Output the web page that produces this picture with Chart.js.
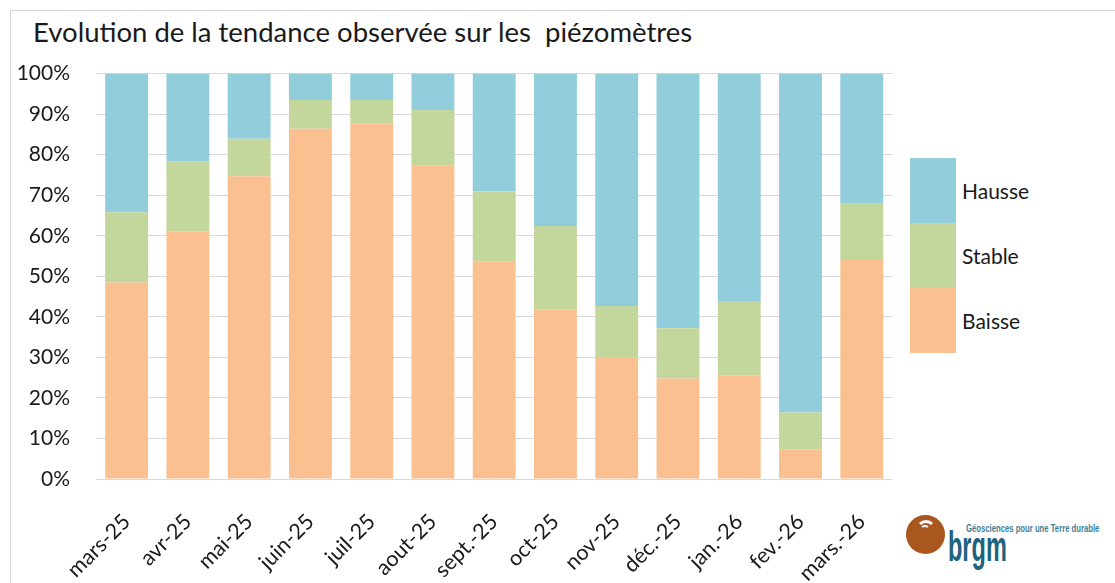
<!DOCTYPE html>
<html>
<head>
<meta charset="utf-8">
<script src="https://cdn.jsdelivr.net/npm/chart.js@4"></script>
<style>
  body { margin: 0; background: #fff; width: 1115px; height: 583px; overflow: hidden; position: relative; font-family: Lato, "Open Sans", sans-serif; }
  #frame { position: absolute; left: 10px; top: 10px; width: 1200px; height: 700px; border: 1px solid #d4d4d4; }
  #title { position: absolute; left: 33px; top: 15px; font-size: 27.5px; color: #1a1a1a; white-space: pre; }
  #chart-box { position: absolute; left: 10px; top: 35px; width: 892px; height: 548px; }
  #legend { position: absolute; left: 910px; top: 158px; }
  .leg-row { display: flex; align-items: center; height: 65px; }
  .leg-box { width: 46px; height: 65px; }
  .leg-text { margin-left: 6px; font-size: 21px; color: #1a1a1a; }
  #logo { position: absolute; left: 905px; top: 512px; width: 210px; height: 70px; }
  #logo .dot { position: absolute; left: 1px; top: 3px; width: 39px; height: 39px; border-radius: 50%; background: #a9561f; }
  #logo .arc { position: absolute; border: 3px solid #fff; border-bottom-color: transparent; border-left-color: transparent; border-right-color: transparent; border-radius: 50%; }
  #logo .brgm { position: absolute; left: 43px; top: 11px; font-family: "Liberation Sans", sans-serif; font-weight: bold; font-size: 42px; color: #21627c; transform: scaleX(0.56); transform-origin: left top; }
  #logo .tag { position: absolute; left: 61px; top: 10px; font-family: "Liberation Sans Narrow", "Liberation Sans", sans-serif; font-weight: bold; font-size: 11px; color: #3d7f98; transform: scaleX(0.7); transform-origin: left top; white-space: nowrap; }
</style>
</head>
<body>
<div id="frame"></div>
<div id="title">Evolution de la tendance observée sur les  piézomètres</div>
<div id="chart-box"><canvas id="chart"></canvas></div>
<div id="legend"></div>
<div id="logo">
  <div class="dot"></div>
  <div class="arc" style="left:11px;top:8px;width:14px;height:14px;"></div>
  <div class="arc" style="left:15px;top:13px;width:6px;height:6px;border-width:2px;"></div>
  <div class="tag">Géosciences pour une Terre durable</div>
  <div class="brgm">brgm</div>
</div>
<script>
const months = ["mars-25", "avr-25", "mai-25", "juin-25", "juil-25", "aout-25", "sept.-25", "oct-25", "nov-25", "déc.-25", "jan.-26", "fev.-26", "mars.-26"];
const baisse = [48.5, 61.1, 74.7, 86.4, 87.6, 77.4, 53.6, 41.8, 30.0, 24.8, 25.6, 7.3, 54.0];
const stable = [17.3, 17.3, 9.2, 7.1, 5.9, 13.6, 17.4, 20.6, 12.7, 12.4, 18.3, 9.1, 14.1];
const hausse = [34.2, 21.6, 16.1, 6.5, 6.5, 9.0, 29.0, 37.6, 57.3, 62.8, 56.1, 83.6, 31.9];
const yTicks = [0, 10, 20, 30, 40, 50, 60, 70, 80, 90, 100];

const fontFamily = 'Lato, "Open Sans", sans-serif';

const chart = new Chart(document.getElementById("chart"), {
  type: "bar",
  data: {
    labels: months,
    datasets: [
      { label: "Baisse", data: baisse, backgroundColor: "#fac090" },
      { label: "Stable", data: stable, backgroundColor: "#c3d69b" },
      { label: "Hausse", data: hausse, backgroundColor: "#92cddc" }
    ]
  },
  options: {
    responsive: true,
    maintainAspectRatio: false,
    animation: false,
    datasets: { bar: { categoryPercentage: 1, barPercentage: 0.7, borderWidth: 0 } },
    layout: { padding: { top: 13, right: 0, bottom: 0, left: 0 } },
    plugins: {
      legend: { display: false },
      tooltip: { enabled: false },
      title: { display: false }
    },
    scales: {
      x: {
        stacked: true,
        grid: { display: false },
        border: { display: false },
        ticks: {
          color: "#1a1a1a",
          font: { family: fontFamily, size: 21.5 },
          minRotation: 45,
          maxRotation: 45,
          padding: 22,
          autoSkip: false
        },
        afterFit: scale => { scale.height = 104; }
      },
      y: {
        stacked: true,
        min: 0,
        max: 100,
        afterBuildTicks: scale => { scale.ticks = yTicks.map(v => ({ value: v })); },
        grid: { color: "#d9d9d9", lineWidth: 1, drawTicks: false },
        border: { display: false },
        ticks: {
          color: "#1a1a1a",
          font: { family: fontFamily, size: 21 },
          padding: 26,
          callback: v => v + "%"
        },
        afterFit: scale => { scale.width = 86; }
      }
    }
  }
});

// legend from datasets, top to bottom like the stack
const legend = document.getElementById("legend");
chart.data.datasets.slice().reverse().forEach(ds => {
  const row = document.createElement("div");
  row.className = "leg-row";
  row.innerHTML = `<div class="leg-box" style="background:${ds.backgroundColor}"></div><div class="leg-text">${ds.label}</div>`;
  legend.appendChild(row);
});
</script>
</body>
</html>
